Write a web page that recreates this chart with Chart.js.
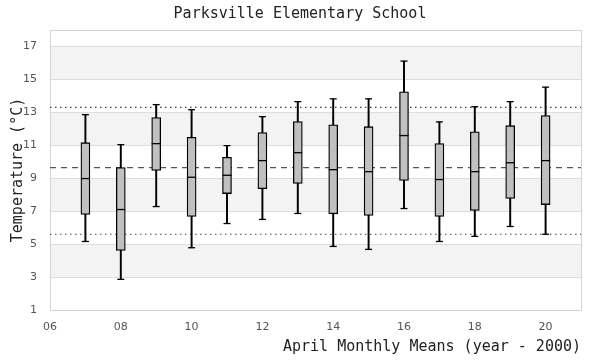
<!DOCTYPE html>
<html>
<head>
<meta charset="utf-8">
<script src="https://cdn.jsdelivr.net/npm/chart.js@4.4.1/dist/chart.umd.min.js"></script>
<style>
  html, body { margin: 0; padding: 0; background: #fff; }
</style>
</head>
<body>
<canvas id="chart" width="600" height="360"></canvas>
<script>

const years = [7, 8, 9, 10, 11, 12, 13, 14, 15, 16, 17, 18, 19, 20];
const whiskerLow  = [5.16, 2.86, 7.28, 4.78, 6.25, 6.5, 6.86, 4.86, 4.68, 7.16, 5.16, 5.47, 6.07, 5.6];
const q1          = [6.8, 4.62, 9.47, 6.68, 8.07, 8.37, 8.68, 6.84, 6.74, 8.86, 6.68, 7.04, 7.77, 7.4];
const medians     = [8.98, 7.1, 11.1, 9.06, 9.18, 10.07, 10.55, 9.52, 9.4, 11.59, 8.92, 9.4, 9.94, 10.07];
const q3          = [11.16, 9.65, 12.68, 11.48, 10.27, 11.77, 12.44, 12.25, 12.13, 14.25, 11.1, 11.82, 12.19, 12.8];
const whiskerHigh = [12.86, 11.04, 13.47, 13.16, 10.98, 12.74, 13.65, 13.82, 13.82, 16.11, 12.42, 13.34, 13.65, 14.53];

const overallMean = 9.65;
const upperLimit = 13.3;
const lowerLimit = 5.6;

const xTicks = [6, 8, 10, 12, 14, 16, 18, 20];
const yTicks = [1, 3, 5, 7, 9, 11, 13, 15, 17];
const shadedBands = [[3, 5], [7, 9], [11, 13], [15, 17]];

const xMin = 6, xMax = 21, yMin = 1, yMax = 18;

const monoFont = "'DejaVu Sans Mono', monospace";
const sansFont = "'DejaVu Sans', sans-serif";

function hLine(value, dash, color) {
    return {
        type: 'line',
        data: [{x: xMin, y: value}, {x: xMax, y: value}],
        borderColor: color,
        borderWidth: 1.2,
        borderDash: dash,
        pointRadius: 0,
        fill: false,
        order: 5
    };
}

// shaded bands + frame, placed with the chart scales
const backdrop = {
    id: 'backdrop',
    beforeDraw(chart) {
        const {ctx, chartArea: a, scales: {y}} = chart;
        ctx.save();
        ctx.fillStyle = '#fff';
        ctx.fillRect(0, 0, chart.width, chart.height);
        ctx.fillStyle = '#f3f3f3';
        shadedBands.forEach(b => {
            const top = y.getPixelForValue(b[1]);
            const bot = y.getPixelForValue(b[0]);
            ctx.fillRect(a.left, top, a.right - a.left, bot - top);
        });
        ctx.restore();
    },
    beforeDatasetsDraw(chart) {
        const {ctx, chartArea: a} = chart;
        ctx.save();
        ctx.strokeStyle = '#d4d4d4';
        ctx.lineWidth = 1;
        ctx.strokeRect(Math.round(a.left) + 0.5, Math.round(a.top) + 0.5,
            Math.round(a.right - a.left), Math.round(a.bottom - a.top));
        ctx.restore();
    }
};

const datasets = [
    hLine(overallMean, [6, 5], '#555'),
    hLine(upperLimit, [1.5, 3.5], '#444'),
    hLine(lowerLimit, [1.5, 3.5], '#444'),
    {
        type: 'bar',
        data: years.map((x, i) => ({x: x, y: [whiskerLow[i], whiskerHigh[i]]})),
        backgroundColor: '#000',
        borderWidth: 0,
        barThickness: 1.3,
        grouped: false,
        order: 4
    },
    {
        type: 'bar',
        data: years.map((x, i) => ({x: x, y: [q1[i], q3[i]]})),
        backgroundColor: '#c0c0c0',
        borderColor: '#000',
        borderWidth: 1.3,
        borderSkipped: false,
        barThickness: 9,
        grouped: false,
        order: 3
    },
    {
        type: 'scatter',
        data: years.map((x, i) => ({x: x, y: whiskerHigh[i]}))
            .concat(years.map((x, i) => ({x: x, y: whiskerLow[i]}))),
        pointStyle: 'line',
        pointRadius: 3.5,
        borderColor: '#000',
        borderWidth: 1.3,
        order: 2
    },
    {
        type: 'scatter',
        data: years.map((x, i) => ({x: x, y: medians[i]})),
        pointStyle: 'line',
        pointRadius: 4.5,
        borderColor: '#000',
        borderWidth: 1.3,
        order: 1
    }
];

new Chart(document.getElementById('chart'), {
    type: 'bar',
    data: { datasets: datasets },
    plugins: [backdrop],
    options: {
        responsive: false,
        animation: false,
        events: [],
        layout: { padding: { top: 0, right: 0, bottom: 0, left: 0 } },
        plugins: {
            legend: { display: false },
            tooltip: { enabled: false },
            title: {
                display: true,
                text: 'Parksville Elementary School',
                color: '#222',
                font: { family: monoFont, size: 15, weight: 'normal' },
                padding: { top: 5, bottom: 7 }
            }
        },
        scales: {
            x: {
                type: 'linear',
                min: xMin,
                max: xMax,
                offset: false,
                afterBuildTicks: s => { s.ticks = xTicks.map(v => ({value: v})); },
                afterFit: s => { s.height = 50; },
                ticks: {
                    color: '#555',
                    font: { family: sansFont, size: 11 },
                    padding: 11,
                    maxRotation: 0,
                    callback: v => String(v).padStart(2, '0')
                },
                grid: { display: false, drawTicks: false },
                border: { display: true, color: '#d4d4d4' },
                title: {
                    display: true,
                    text: 'April Monthly Means (year - 2000)',
                    align: 'end',
                    color: '#222',
                    font: { family: monoFont, size: 15 },
                    padding: { top: 0, bottom: 4 }
                }
            },
            y: {
                min: yMin,
                max: yMax,
                offset: false,
                afterBuildTicks: s => { s.ticks = yTicks.map(v => ({value: v})); },
                afterFit: s => { s.width = 50; },
                ticks: {
                    color: '#555',
                    font: { family: sansFont, size: 11 },
                    padding: 13
                },
                grid: { color: '#dcdcdc', drawTicks: false },
                border: { display: true, color: '#d4d4d4' },
                title: {
                    display: true,
                    text: 'Temperature (°C)',
                    color: '#222',
                    font: { family: monoFont, size: 15 },
                    padding: { top: 9, bottom: 0 }
                }
            },
            yRight: {
                position: 'right',
                display: true,
                afterFit: s => { s.width = 19; },
                ticks: { display: false },
                grid: { display: false, drawTicks: false },
                border: { display: false }
            }
        }
    }
});
</script>
</body>
</html>
